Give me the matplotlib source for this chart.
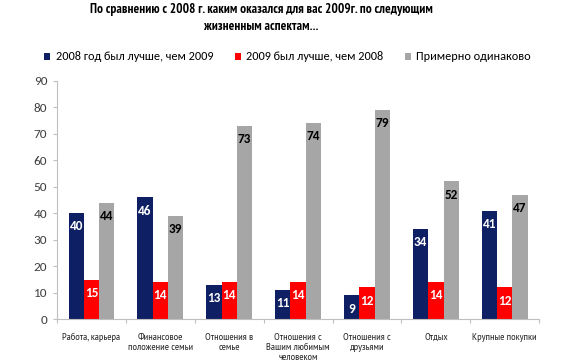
import numpy as np
import matplotlib
matplotlib.use("Agg")
import matplotlib.pyplot as plt

# Data
CATEGORIES = [
    "Работа, карьера",
    "Финансовое\nположение семьи",
    "Отношения в\nсемье",
    "Отношения с\nВашим любимым\nчеловеком",
    "Отношения с\nдрузьями",
    "Отдых",
    "Крупные покупки",
]
SERIES_NAMES = [
    "2008 год был лучше, чем 2009",
    "2009 был лучше, чем 2008",
    "Примерно одинаково",
]
WORSE_2009 = [40, 46, 13, 11, 9, 34, 41]
BETTER_2009 = [15, 14, 14, 14, 12, 14, 12]
SAME = [44, 39, 73, 74, 79, 52, 47]
Y_TICKS = [0, 10, 20, 30, 40, 50, 60, 70, 80, 90]

COLORS = ["#0F1F63", "#FF0000", "#A6A6A6"]
LABEL_COLORS = ["white", "white", "black"]
TITLE = "По сравнению с 2008 г. каким оказался для вас 2009г. по следующим\nжизненным аспектам..."

NARROW = ["PT Sans Narrow", "DejaVu Sans"]
plt.rcParams["font.family"] = ["Carlito", "DejaVu Sans"]

fig = plt.figure(figsize=(5.7, 3.6), dpi=100)
ax = fig.add_axes([0.1, 0.113, 0.846, 0.663])

x = np.arange(len(CATEGORIES))
w = 0.222
for i, (vals, col, lcol) in enumerate(zip([WORSE_2009, BETTER_2009, SAME],
                                          COLORS, LABEL_COLORS)):
    bars = ax.bar(x + (i - 1) * w, vals, w, color=col, label=SERIES_NAMES[i])
    for rect, v in zip(bars, vals):
        ax.annotate(str(v), xy=(rect.get_x() + rect.get_width() / 2, v),
                    xytext=(0, -9.5), textcoords="offset points",
                    ha="center", va="center", fontsize=9.5, fontweight="bold",
                    color=lcol)

ax.set_xlim(-0.5, len(CATEGORIES) - 0.5)
ax.set_ylim(0, 90)
ax.set_yticks(Y_TICKS)
ax.tick_params(axis="y", labelsize=9.5, colors="#404040", length=3,
               color="#BFBFBF", pad=4)
ax.set_xticks(np.arange(len(CATEGORIES) + 1) - 0.5, minor=False)
ax.set_xticklabels([])
ax.set_xticks(x, minor=True)
ax.set_xticklabels(CATEGORIES, minor=True, fontsize=7.5, family=NARROW,
                   color="#262626", va="top", linespacing=1.1)
ax.tick_params(axis="x", which="major", length=3, color="#BFBFBF")
ax.tick_params(axis="x", which="minor", length=0, pad=10)
for s in ("top", "right"):
    ax.spines[s].set_visible(False)
for s in ("left", "bottom"):
    ax.spines[s].set_color("#BFBFBF")

fig.text(261 / 570, 1 - 3 / 360, TITLE, ha="center", va="top",
         fontsize=9.5, fontweight="bold", family=NARROW, linespacing=1.4)

fig.legend(loc="center left", bbox_to_anchor=(44 / 570, 1 - 57 / 360),
           ncol=3, frameon=False, fontsize=8.8, handlelength=0.5,
           handleheight=0.5, handletextpad=0.45, columnspacing=1.75,
           borderpad=0, borderaxespad=0)

fig.savefig("out.png", dpi=100)
